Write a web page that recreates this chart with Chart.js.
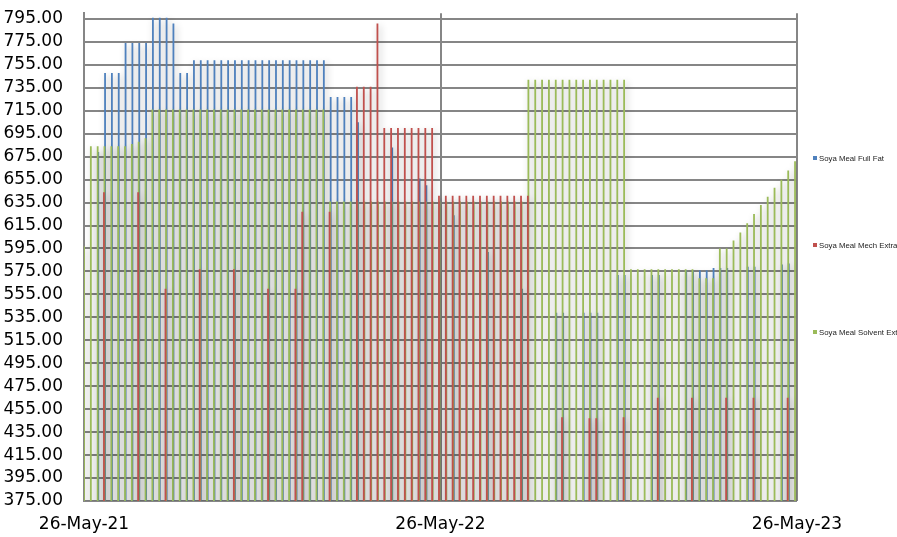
<!DOCTYPE html>
<html>
<head>
<meta charset="utf-8">
<title>Soya Meal prices</title>
<script src="https://cdn.jsdelivr.net/npm/chart.js@4.4.1/dist/chart.umd.min.js"></script>
<style>
    body { margin: 0; background: #fff; overflow: hidden; }
    #wrap { position: relative; width: 897px; height: 537px; }
    .legend-item {
        position: absolute;
        left: 813px;
        font: 7.8px 'Liberation Sans', Arial, sans-serif;
        color: #222;
        line-height: 10px;
        white-space: nowrap;
    }
    .legend-item span {
        display: inline-block;
        width: 4px;
        height: 4px;
        margin-right: 2px;
        vertical-align: 1px;
    }
</style>
</head>
<body>
<div id="wrap">
    <canvas id="priceChart"></canvas>
    <div id="legend"></div>
</div>
<script>
// weekly price dates
const weekDates = [
    '2021-05-26', '2021-06-02', '2021-06-09', '2021-06-16', '2021-06-23', '2021-06-30', '2021-07-07', '2021-07-14', '2021-07-21', '2021-07-28',
    '2021-08-04', '2021-08-11', '2021-08-18', '2021-08-25', '2021-09-01', '2021-09-08', '2021-09-15', '2021-09-22', '2021-09-29', '2021-10-06',
    '2021-10-13', '2021-10-20', '2021-10-27', '2021-11-03', '2021-11-10', '2021-11-17', '2021-11-24', '2021-12-01', '2021-12-08', '2021-12-15',
    '2021-12-22', '2021-12-29', '2022-01-05', '2022-01-12', '2022-01-19', '2022-01-26', '2022-02-02', '2022-02-09', '2022-02-16', '2022-02-23',
    '2022-03-02', '2022-03-09', '2022-03-16', '2022-03-23', '2022-03-30', '2022-04-06', '2022-04-13', '2022-04-20', '2022-04-27', '2022-05-04',
    '2022-05-11', '2022-05-18', '2022-05-25', '2022-06-01', '2022-06-08', '2022-06-15', '2022-06-22', '2022-06-29', '2022-07-06', '2022-07-13',
    '2022-07-20', '2022-07-27', '2022-08-03', '2022-08-10', '2022-08-17', '2022-08-24', '2022-08-31', '2022-09-07', '2022-09-14', '2022-09-21',
    '2022-09-28', '2022-10-05', '2022-10-12', '2022-10-19', '2022-10-26', '2022-11-02', '2022-11-09', '2022-11-16', '2022-11-23', '2022-11-30',
    '2022-12-07', '2022-12-14', '2022-12-21', '2022-12-28', '2023-01-04', '2023-01-11', '2023-01-18', '2023-01-25', '2023-02-01', '2023-02-08',
    '2023-02-15', '2023-02-22', '2023-03-01', '2023-03-08', '2023-03-15', '2023-03-22', '2023-03-29', '2023-04-05', '2023-04-12', '2023-04-19',
    '2023-04-26', '2023-05-03', '2023-05-10', '2023-05-17', '2023-05-24'
];

const fullFat = [
    null, null, 679, 748, 748, 748, 774, 774, 774, 774,
    796, 796, 796, 791, 748, 748, 759, 759, 759, 759,
    759, 759, 759, 759, 759, 759, 759, 759, 759, 759,
    759, 759, 759, 759, 759, 759, 727, 727, 727, 727,
    705, null, null, null, null, 683, null, null, null, 656,
    650, null, null, null, 624, null, null, null, null, 592,
    null, null, null, null, 560, null, null, null, null, 539,
    539, null, null, 539, 539, 539, null, null, 572, 572,
    null, null, null, 572, 572, null, null, null, 576, 576,
    576, 576, 578, 578, 578, null, null, 579, 579, null,
    null, null, 581, 582, null
];

const mechExtra = [
    null, null, null, 644, null, null, null, null, 644, null,
    null, null, 560, null, null, null, null, 577, null, null,
    null, null, 577, null, null, null, null, 560, null, null,
    null, 560, 627, null, null, null, 627, null, null, null,
    736, 736, 736, 791, 700, 700, 700, 700, 700, 700,
    700, 700, 641, 641, 641, 641, 641, 641, 641, 641,
    641, 641, 641, 641, 641, 641, null, null, null, null,
    448, null, null, null, 447, 447, null, null, null, 448,
    null, null, null, null, 465, null, null, null, null, 465,
    null, null, null, null, 465, null, null, null, 465, null,
    null, null, null, 465, null
];

const solventExt = [
    597, 684, 684, 684, 684, 684, 684, 686, 688, 691,
    716, 716, 716, 716, 716, 716, 716, 716, 716, 716,
    716, 716, 716, 716, 716, 716, 716, 716, 716, 716,
    716, 716, 716, 716, 716, 716, 636, 636, 636, 636,
    636, 636, 636, 636, 636, 636, 636, 636, 636, 636,
    636, 636, 636, 636, 636, 636, 636, 636, 636, 636,
    636, 636, 636, 636, 636, 742, 742, 742, 742, 742,
    742, 742, 742, 742, 742, 742, 742, 742, 742, 742,
    577, 577, 577, 577, 577, 577, 577, 577, 577, 577,
    569, 569, 569, 595, 595, 602, 609, 617, 625, 633,
    640, 648, 655, 663, 671
];

const seriesNames = ['Soya Meal Full Fat', 'Soya Meal Mech Extra', 'Soya Meal Solvent Ext'];
const seriesColors = ['#4F81BD', '#C0504D', '#9BBB59'];

const yTicks = [375, 395, 415, 435, 455, 475, 495, 515, 535, 555, 575, 595, 615, 635, 655, 675, 695, 715, 735, 755, 775, 795];
const xTickDates = ['2021-05-26', '2022-05-26', '2023-05-26'];
const xTickLabels = ['26-May-21', '26-May-22', '26-May-23'];

const DAY_MS = 86400000;
const startMs = Date.parse(weekDates[0]);
const dayOf = d => Math.round((Date.parse(d) - startMs) / DAY_MS);

function toPoints(values) {
    return weekDates.map((d, i) => ({ x: dayOf(d), y: values[i] }));
}

// soft drop shadow behind the columns, like the office chart style
const columnShadow = {
    id: 'columnShadow',
    beforeDatasetsDraw(chart) {
        const ctx = chart.ctx;
        ctx.save();
        ctx.shadowColor = 'rgba(0, 0, 0, 0.3)';
        ctx.shadowBlur = 7;
        ctx.shadowOffsetX = 2;
        ctx.shadowOffsetY = 2;
    },
    afterDatasetsDraw(chart) {
        chart.ctx.restore();
    }
};

Chart.defaults.font.family = "'DejaVu Sans', sans-serif";

// red drawn last, then green, blue at the back
const drawOrder = [2, 0, 1];

const datasets = [fullFat, mechExtra, solventExt].map((values, index) => ({
    label: seriesNames[index],
    data: toPoints(values),
    backgroundColor: seriesColors[index],
    borderWidth: 0,
    inflateAmount: 0,
    order: drawOrder[index]
}));

const ctx = document.getElementById('priceChart').getContext('2d');
const priceChart = new Chart(ctx, {
    type: 'bar',
    data: { datasets: datasets },
    plugins: [columnShadow],
    options: {
        responsive: true,
        maintainAspectRatio: false,
        animation: false,
        events: [],
        layout: { padding: { top: 10, right: 100, bottom: 0, left: 0 } },
        datasets: {
            bar: { categoryPercentage: 0.24, barPercentage: 3.3 }
        },
        plugins: {
            legend: { display: false },
            tooltip: { enabled: false }
        },
        scales: {
            x: {
                type: 'linear',
                min: 0,
                max: 730,
                offset: false,
                afterBuildTicks: axis => { axis.ticks = xTickDates.map(d => ({ value: dayOf(d) })); },
                afterFit: axis => { axis.height = 36; },
                grid: { offset: false, color: '#868686', lineWidth: 2, drawTicks: false },
                border: { display: false },
                ticks: {
                    padding: 13,
                    color: '#000',
                    maxRotation: 0,
                    autoSkip: false,
                    font: { size: 17 },
                    callback: (value, index) => xTickLabels[index]
                }
            },
            y: {
                min: 375,
                max: 800,
                beginAtZero: false,
                afterBuildTicks: axis => { axis.ticks = yTicks.map(v => ({ value: v })); },
                afterFit: axis => { axis.width = 84; },
                grid: { color: '#868686', lineWidth: 2, drawTicks: true, tickLength: 18, tickColor: 'rgba(0,0,0,0)' },
                border: { color: '#868686', width: 2 },
                ticks: {
                    padding: 3,
                    color: '#000',
                    autoSkip: false,
                    font: { size: 17 },
                    callback: value => Number(value).toFixed(2)
                }
            }
        }
    }
});

// legend on the right, items spread down the side
const legendTops = [154, 241, 328];
const legendBox = document.getElementById('legend');
seriesNames.forEach((name, i) => {
    const item = document.createElement('div');
    item.className = 'legend-item';
    item.style.top = legendTops[i] + 'px';
    const swatch = document.createElement('span');
    swatch.style.background = seriesColors[i];
    item.appendChild(swatch);
    item.appendChild(document.createTextNode(name));
    legendBox.appendChild(item);
});
</script>
</body>
</html>
